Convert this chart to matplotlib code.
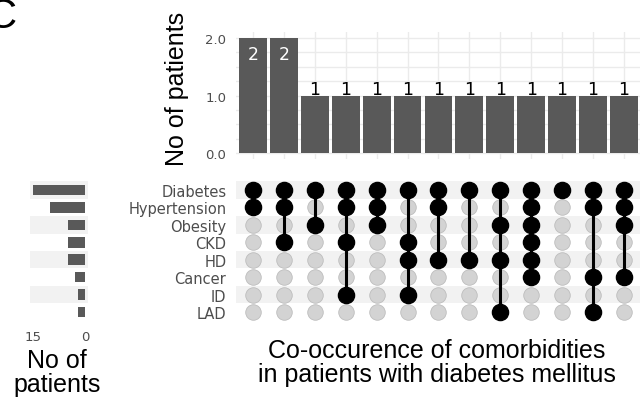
#!/usr/bin/env python3
"""UpSet-style chart: co-occurrence of comorbidities in diabetic patients."""

import numpy as np
import matplotlib
matplotlib.use('Agg')
import matplotlib.pyplot as plt

# Sets (rows of the matrix, top to bottom)
sets = ['Diabetes', 'Hypertension', 'Obesity', 'CKD', 'HD', 'Cancer', 'ID', 'LAD']
set_sizes = [15, 10, 5, 5, 5, 3, 2, 2]

# Intersections (columns, left to right)
intersection_counts = [2, 2, 1, 1, 1, 1, 1, 1, 1, 1, 1, 1, 1]
intersections = [
    ['Diabetes', 'Hypertension'],
    ['Diabetes', 'Hypertension', 'CKD'],
    ['Diabetes', 'Obesity'],
    ['Diabetes', 'Hypertension', 'CKD', 'ID'],
    ['Diabetes', 'Hypertension', 'Obesity'],
    ['Diabetes', 'CKD', 'HD', 'ID'],
    ['Diabetes', 'Hypertension', 'HD'],
    ['Diabetes', 'HD'],
    ['Diabetes', 'Obesity', 'HD', 'LAD'],
    ['Diabetes', 'Hypertension', 'Obesity', 'CKD', 'HD', 'Cancer'],
    ['Diabetes'],
    ['Diabetes', 'Hypertension', 'Cancer', 'LAD'],
    ['Diabetes', 'Hypertension', 'Obesity', 'Cancer'],
]

W, H = 640, 406
BAR_COLOR = '#595959'
GRID = '#ebebeb'
TICK = '#4d4d4d'
BAND = '#f2f2f2'
BIG = 'Liberation Sans'

fig = plt.figure(figsize=(W / 100, H / 100), dpi=100)
fig.patch.set_facecolor('white')


def frac(x0, y0, x1, y1):
    # pixel box -> figure fraction [left, bottom, width, height]
    return [x0 / W, 1 - y1 / H, (x1 - x0) / W, (y1 - y0) / H]


n_cols = len(intersections)
n_rows = len(sets)
xs = np.arange(n_cols)
x_lim = (-0.55, 12.52)

# --- intersection size bars ---
ax_top = fig.add_axes(frac(236, 33, 640, 160))
ax_top.bar(xs, intersection_counts, width=0.9, color=BAR_COLOR, zorder=2)
ax_top.set_xlim(*x_lim)
ax_top.set_ylim(-0.1, 2.1)
ax_top.set_yticks([0, 1, 2])
ax_top.set_yticklabels(['0.0', '1.0', '2.0'])
ax_top.set_yticks(np.arange(0, 2.01, 0.25), minor=True)
ax_top.set_xticks(xs)
ax_top.set_xticklabels([])
ax_top.grid(True, which='both', color=GRID, linewidth=1.0, zorder=0)
ax_top.tick_params(axis='both', which='both', length=0, labelsize=9.5,
                   colors=TICK, pad=7)
for s in ax_top.spines.values():
    s.set_visible(False)
ax_top.set_ylabel('No of patients', fontsize=18, family=BIG)
ax_top.yaxis.set_label_coords(-0.116, 0.56)
for x, c in zip(xs, intersection_counts):
    if c >= 2:
        ax_top.text(x, c - 0.37, str(c), ha='center', va='baseline',
                    color='white', fontsize=12.5)
    else:
        ax_top.text(x, c + 0.02, str(c), ha='center', va='baseline',
                    color='black', fontsize=12.5)

# --- membership matrix ---
ax_mat = fig.add_axes(frac(236, 182.3, 640, 321.7))
ax_mat.set_xlim(*x_lim)
ax_mat.set_ylim(n_rows - 0.5, -0.5)
for i in range(0, n_rows, 2):
    ax_mat.axhspan(i - 0.5, i + 0.5, color=BAND, zorder=0, linewidth=0)
for x, members in zip(xs, intersections):
    ys_all = np.arange(n_rows)
    ax_mat.scatter(np.full(n_rows, x), ys_all, s=125, color='#d3d3d3',
                   edgecolor='#bdbdbd', linewidth=0.6, zorder=1)
    ys = [sets.index(m) for m in members]
    if len(ys) > 1:
        ax_mat.plot([x, x], [min(ys), max(ys)], color='black',
                    linewidth=2.2, zorder=2)
    ax_mat.scatter(np.full(len(ys), x), ys, s=135, color='black', zorder=3)
ax_mat.set_yticks(np.arange(n_rows))
ax_mat.set_yticklabels(sets)
ax_mat.set_xticks([])
ax_mat.tick_params(axis='y', length=0, labelsize=10.5, colors=TICK, pad=7)
for s in ax_mat.spines.values():
    s.set_visible(False)

# --- set size bars ---
ax_set = fig.add_axes(frac(30.4, 182.3, 87.6, 321.7))
ax_set.set_ylim(n_rows - 0.5, -0.5)
ax_set.set_xlim(15.75, -0.75)
for i in range(0, n_rows, 2):
    ax_set.axhspan(i - 0.5, i + 0.5, color=BAND, zorder=0, linewidth=0)
ax_set.barh(np.arange(n_rows), set_sizes, height=0.6, color=BAR_COLOR, zorder=2)
ax_set.set_xticks([15, 0])
ax_set.set_yticks([])
ax_set.tick_params(axis='x', length=0, labelsize=9.5, colors=TICK, pad=7)
for s in ax_set.spines.values():
    s.set_visible(False)

# --- big labels ---
fig.text(437 / W, 1 - 339 / H,
         'Co-occurence of comorbidities\nin patients with diabetes mellitus',
         fontsize=18, family=BIG, ha='center', va='top', linespacing=1.02)
fig.text(57 / W, 1 - 349 / H, 'No of\npatients',
         fontsize=18, family=BIG, ha='center', va='top', linespacing=1.02)
fig.text(-13 / W, 1 - 28 / H, 'C', fontsize=30, family=BIG,
         ha='left', va='baseline')

fig.savefig('out.png', dpi=100)
